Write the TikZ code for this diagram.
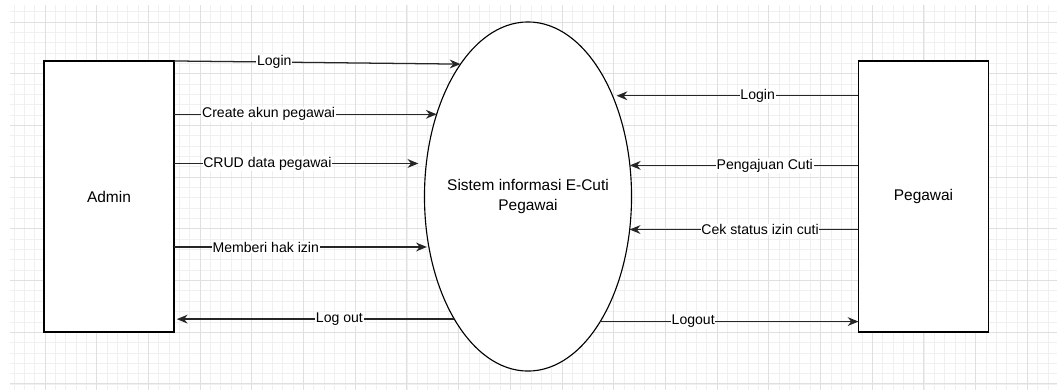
\documentclass[tikz,border=0pt]{standalone}
\usepackage{fontspec}
\setmainfont{Liberation Sans}
\usetikzlibrary{arrows.meta,shapes.geometric}
\definecolor{gridminor}{HTML}{F0F0F0}
\definecolor{gridmajor}{HTML}{E0E0E0}
\begin{document}
\begin{tikzpicture}[x=0.025cm,y=-0.025cm,
    entity/.style={draw=black,line width=1pt,fill=white,minimum width=3.25cm,
      minimum height=6.775cm,inner sep=0pt,outer sep=0pt,
      font=\fontsize{11pt}{14pt}\selectfont},
    process/.style={ellipse,draw=black,line width=0.8pt,fill=white,
      minimum width=5.175cm,minimum height=8.725cm,inner sep=0pt,outer sep=0pt},
    flow/.style={draw=black!85,line width=0.9pt,-{Stealth[length=0.27cm,width=0.22cm]}},
    lbl/.style={fill=white,inner sep=0.5pt,font=\fontsize{10pt}{12pt}\selectfont}]
        \useasboundingbox (0,0) rectangle (1057,390);
        \fill[white] (0,0) rectangle (1057,390);

        % grid
        \foreach \k in {-3,...,97}
            \draw[gridminor,line width=0.5pt] ({45+10.34*\k},5) -- ({45+10.34*\k},390);
        \foreach \k in {-1,...,35}
            \draw[gridminor,line width=0.5pt] (10,{22+10.34*\k}) -- (1057,{22+10.34*\k});
        \foreach \k in {0,...,19}
            \draw[gridmajor,line width=0.6pt] ({45+51.7*\k},5) -- ({45+51.7*\k},390);
        \foreach \k in {0,...,7}
            \draw[gridmajor,line width=0.6pt] (10,{22+51.7*\k}) -- (1057,{22+51.7*\k});

        \node[entity] (admin) at (109,196.5) {Admin};
        \node[entity] (peg) at (923.5,196.5) {Pegawai};
        \node[process] (sys) at (528,196.5) {};
        \node[align=center,font=\fontsize{11pt}{14pt}\selectfont] (systext) at (sys.center)
            {Sistem informasi E-Cuti\\Pegawai};

        % admin side
        \draw[flow] (admin.north east) -- node[lbl,pos=0.35] {Login} (sys.117);
        \draw[flow] (admin.east |- sys.138) -- node[lbl,pos=0.36] {Create akun pegawai} (sys.138);
        \draw[flow,shorten >=0.2cm] (admin.east |- sys.162.3) -- node[lbl,pos=0.37] {CRUD data pegawai} (sys.162.3);
        \draw[flow,shorten >=0.05cm] (admin.east |- sys.207) -- node[lbl,pos=0.36] {Memberi hak izin} (sys.207);
        \draw[flow,shorten >=0.07cm] (sys.239.4) -- node[lbl,pos=0.41] {Log out} (admin.east |- sys.239.4);

        % pegawai side
        \draw[flow,shorten >=0.1cm] (peg.west |- sys.50.3) -- node[lbl,pos=0.41] {Login} (sys.50.3);
        \draw[flow] (peg.west |- sys.17.7) -- node[lbl,pos=0.41] {Pengajuan Cuti} (sys.17.7);
        \draw[flow] (peg.west |- sys.342.3) -- node[lbl,pos=0.43] {Cek status izin cuti} (sys.342.3);
        \draw[flow] (sys.300.6) -- node[lbl,pos=0.36] {Logout} (peg.west |- sys.300.6);
\end{tikzpicture}
\end{document}
